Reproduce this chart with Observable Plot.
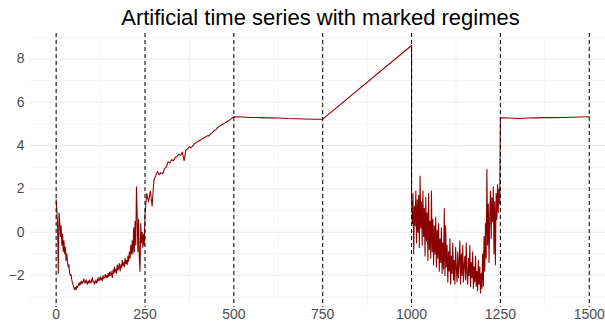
<!DOCTYPE html>
<html><head><meta charset="utf-8">
<script src="https://cdn.jsdelivr.net/npm/d3@7"></script>
<script src="https://cdn.jsdelivr.net/npm/@observablehq/plot@0.6"></script>
<style>
body{margin:0;background:#fff;}
#chart svg{display:block;background:#fff;}
</style>
</head><body><div id="chart"></div>
<script>
const title = "Artificial time series with marked regimes";
const regimeBreaks = [0, 250, 500, 750, 1000, 1250, 1500];
const xTicks = [0, 250, 500, 750, 1000, 1250, 1500];
const xMinor = [125, 375, 625, 875, 1125, 1375];
const yTicks = [-2, 0, 2, 4, 6, 8];
const yMinor = [-3, -1, 1, 3, 5, 7, 9];

// Regime 1: noisy U-shape (t = 0 .. 248, every 2)
const regime1Start = 0, regime1Step = 2;
const regime1Values = [
  1.5,1.0,0.3,-1.9,0.9,0.5,-0.2,0.3,-0.6,-0.1,
  -0.9,-0.4,-1.0,-0.7,-1.3,-1.0,-1.4,-1.6,-1.5,-1.9,
  -2.0,-1.95,-2.2,-2.35,-2.45,-2.55,-2.65,-2.55,-2.65,-2.5,
  -2.55,-2.45,-2.35,-2.45,-2.3,-2.4,-2.25,-2.35,-2.3,-2.15,
  -2.3,-2.35,-2.2,-2.3,-2.4,-2.25,-2.35,-2.2,-2.3,-2.35,
  -2.2,-2.1,-2.3,-2.25,-2.4,-2.3,-2.2,-2.35,-2.25,-2.1,
  -2.25,-2.2,-2.05,-2.2,-2.1,-2.25,-2.0,-2.15,-2.1,-1.95,
  -2.1,-2.0,-2.1,-1.9,-2.05,-1.85,-2.0,-1.8,-1.95,-2.1,
  -1.75,-1.9,-1.6,-1.85,-1.7,-1.9,-1.5,-1.75,-1.6,-1.45,
  -1.8,-1.5,-1.65,-1.3,-1.55,-1.4,-1.6,-1.2,-1.45,-1.3,
  -1.5,-1.1,-1.35,-0.9,-1.2,-0.6,-1.0,-0.4,-1.0,0.2,
  -0.9,0.5,-0.6,2.1,0.8,-0.9,0.6,-1.2,-1.8,0.4,
  -0.5,0.0,-0.7,-0.1,-0.6
];
// Regime 2: rising trend (t = 250 .. 500, every 5)
const regime2Start = 250, regime2Step = 5;
const regime2Values = [
  0.8,1.8,1.4,1.9,1.2,2.4,2.6,2.8,2.65,2.75,
  2.7,2.95,3.0,3.25,3.2,3.35,3.3,3.45,3.5,3.6,
  3.55,3.7,3.3,3.8,3.85,3.95,3.9,4.0,4.1,4.15,
  4.2,4.25,4.3,4.35,4.4,4.45,4.45,4.55,4.6,4.7,
  4.75,4.85,4.9,4.95,5.0,5.05,5.1,5.15,5.2,5.27,5.33
];
// Regime 3: flat (t = 500 .. 750, every 25)
const regime3Start = 500, regime3Step = 25;
const regime3Values = [5.33,5.32,5.30,5.29,5.28,5.27,5.25,5.24,5.23,5.22,5.22];
// Regime 4: straight ramp (t = 750 .. 1000)
const regime4Start = 750, regime4Step = 250;
const regime4Values = [5.22, 8.62];
// Regime 5: high-noise U-shape (t = 1000 .. 1248, every 2)
const regime5Start = 1000, regime5Step = 2;
const regime5Values = [
  1.6,0.4,1.8,-1.0,1.2,0.3,1.9,-0.5,1.5,0.0,
  1.7,-0.7,2.6,0.2,1.4,-0.6,1.9,-0.2,1.1,-1.1,
  1.6,-0.4,0.9,-1.3,1.8,-0.8,0.5,-1.2,1.9,-0.9,
  0.6,-1.5,0.3,-1.0,0.7,-1.6,0.1,-1.2,0.4,-1.8,
  -0.3,-1.4,0.2,-1.9,-0.5,-1.7,1.1,-2.0,0.3,-1.6,
  -0.6,-2.3,-0.9,-1.8,-0.3,-2.4,-1.1,-1.9,-0.5,-2.2,
  -1.3,-2.4,-0.7,-1.7,-2.3,-0.9,-2.1,-1.4,-0.4,-2.4,
  -1.0,-2.0,-0.6,-2.3,-1.5,-1.1,-2.2,-0.5,-1.9,-2.4,
  -1.2,-2.0,-0.6,-2.5,-1.4,-2.1,-0.9,-2.6,-1.6,-2.3,
  -1.1,-2.5,-1.8,-2.7,-1.3,-2.4,-1.6,-2.8,-1.9,-2.6,
  -1.0,-2.5,-0.2,-1.8,0.4,-1.2,2.9,-0.6,1.3,-1.4,
  0.8,1.9,-0.3,1.6,0.5,2.1,-1.0,1.4,-1.5,1.8,
  0.6,2.2,0.9,2.0,1.3
];
// Regime 6: flat (t = 1250 .. 1500, every 25)
const regime6Start = 1250, regime6Step = 25;
const regime6Values = [5.28,5.27,5.25,5.27,5.28,5.29,5.29,5.30,5.31,5.32,5.33];

const regimes = [
  [regime1Start, regime1Step, regime1Values],
  [regime2Start, regime2Step, regime2Values],
  [regime3Start, regime3Step, regime3Values],
  [regime4Start, regime4Step, regime4Values],
  [regime5Start, regime5Step, regime5Values],
  [regime6Start, regime6Step, regime6Values]
];
const series = regimes.flatMap(([s, st, vals]) => vals.map((v, i) => ({t: s + i * st, value: v})));

const W = 605, H = 327;
const grid = "#EBEBEB";
const chart = Plot.plot({
  width: W,
  height: H,
  marginLeft: 29,
  marginRight: 0,
  marginTop: 33,
  marginBottom: 20,
  style: {fontFamily: "'Liberation Sans', Arial, sans-serif", fontSize: "14px", background: "#fff"},
  x: {domain: [-75, 1575], range: [29, 615.4]},
  y: {domain: [-3.475, 9.175], range: [307, 33]},
  marks: [
    Plot.ruleY(yMinor, {stroke: grid, strokeWidth: 0.55}),
    Plot.ruleX(xMinor, {stroke: grid, strokeWidth: 0.55}),
    Plot.ruleY(yTicks, {stroke: grid, strokeWidth: 1.07}),
    Plot.ruleX(xTicks, {stroke: grid, strokeWidth: 1.07}),
    Plot.line(series, {x: "t", y: "value", stroke: "#8B0000", strokeWidth: 1.07}),
    Plot.ruleX(regimeBreaks, {stroke: "#000", strokeWidth: 1, strokeDasharray: "4,3"}),
    Plot.axisX({ticks: xTicks, tickFormat: d => String(d), tickSize: 0, tickPadding: 2, fontSize: 14, color: "#4D4D4D", label: null}),
    Plot.axisY({ticks: yTicks, tickSize: 0, tickPadding: 5, fontSize: 14, color: "#4D4D4D", label: null}),
    Plot.text([title], {frameAnchor: "top", dy: -16, dx: 3, fontSize: 22, fill: "#000", lineAnchor: "middle"})
  ]
});
document.getElementById("chart").appendChild(chart);
</script>
</body></html>
